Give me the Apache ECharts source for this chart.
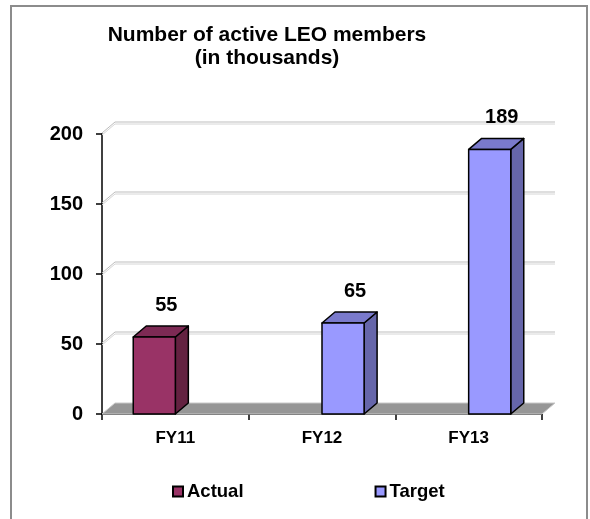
<!DOCTYPE html>
<html><head><meta charset="utf-8">
<script src="https://cdn.jsdelivr.net/npm/echarts@6/dist/echarts.min.js"></script>
<style>html,body{margin:0;padding:0;background:#fff}#c{width:590px;height:519px}</style>
</head><body><div id="c"></div>
<script>
const categories = ['FY11', 'FY12', 'FY13'];
const actualValues = [55, null, null];
const targetValues = [null, 65, 189];
const yTicks = [0, 50, 100, 150, 200];
const seriesNames = ['Actual', 'Target'];
const titleText = 'Number of active LEO members\n(in thousands)';

const DX = 13, DY = -11;
const FONT = "'Liberation Sans', Arial, Helvetica, sans-serif";

function toData(arr) {
  const out = [];
  arr.forEach((v, i) => { if (v != null) out.push([i, v]); });
  return out;
}

function barRenderer(side, colors) {
  return function (params, api) {
    const idx = api.value(0), v = api.value(1);
    const top = api.coord([idx, v]);
    const base = api.coord([idx, 0]);
    const band = api.size([1, 0])[0];
    const w = band * 0.287;
    const x0 = side === 'left' ? top[0] - w : top[0];
    const x1 = x0 + w;
    const yT = top[1], yB = base[1];
    const st = (fill) => ({ fill: fill, stroke: '#000', lineWidth: 1.5, lineJoin: 'round' });
    return {
      type: 'group', children: [
        { type: 'polygon', shape: { points: [[x1, yB], [x1 + DX, yB + DY], [x1 + DX, yT + DY], [x1, yT]] }, style: st(colors.side) },
        { type: 'polygon', shape: { points: [[x0, yT], [x1, yT], [x1 + DX, yT + DY], [x0 + DX, yT + DY]] }, style: st(colors.top) },
        { type: 'rect', shape: { x: x0, y: yT, width: w, height: yB - yT }, style: st(colors.front) },
        { type: 'text', x: (x0 + x1) / 2 + 12, y: yT - 32,
          style: { text: String(v), fill: '#000', font: 'bold 20px ' + FONT, align: 'center', verticalAlign: 'middle', textAlign: 'center', textVerticalAlign: 'middle' } }
      ]
    };
  };
}

function renderWalls(params, api) {
  const c0 = api.coord([0, 0]);
  const band = api.size([1, 0])[0];
  const xL = c0[0] - band / 2, xR = xL + band * categories.length;
  const y0 = c0[1];
  const children = [];
  yTicks.forEach(t => {
    if (t === 0) return;
    const y = api.coord([0, t])[1];
    children.push({ type: 'polyline', shape: { points: [[xL, y - 1], [xL + DX, y + DY - 1], [xR + DX, y + DY - 1]] }, style: { stroke: '#bdbdbd', lineWidth: 1, fill: null } });
    children.push({ type: 'polyline', shape: { points: [[xL, y + 1], [xL + DX, y + DY + 1], [xR + DX, y + DY + 1]] }, style: { stroke: '#d6d6d6', lineWidth: 1, fill: null } });
  });
  children.push({ type: 'polygon', shape: { points: [[xL, y0], [xR, y0], [xR + DX, y0 + DY], [xL + DX, y0 + DY]] }, style: { fill: '#969696', stroke: '#c8c8c8', lineWidth: 1 } });
  return { type: 'group', children: children };
}

const chart = echarts.init(document.getElementById('c'), null, { renderer: 'canvas' });
chart.setOption({
  animation: false,
  backgroundColor: '#fff',
  title: {
    text: titleText, left: 262, top: 19, textAlign: 'center',
    textStyle: { fontFamily: FONT, fontWeight: 'bold', fontSize: 21, lineHeight: 23, color: '#000', align: 'center' }
  },
  graphic: [{ type: 'rect', z: -10, shape: { x: 11, y: 6, width: 576, height: 530 }, style: { fill: null, stroke: '#8c8c8c', lineWidth: 2 } }],
  grid: { left: 102, right: 48, top: 134, bottom: 105, containLabel: false },
  legend: {
    data: seriesNames, left: 172, top: 482, padding: 0, icon: 'rect', itemWidth: 10, itemHeight: 10, itemGap: 131,
    itemStyle: { borderColor: '#000', borderWidth: 2 },
    textStyle: { fontFamily: FONT, fontWeight: 'bold', fontSize: 18.5, color: '#000', padding: [0, 0, 0, -1] }
  },
  xAxis: {
    type: 'category', data: categories, boundaryGap: true,
    axisLine: { show: true, lineStyle: { color: '#000', width: 1.5 } },
    axisTick: { show: true, length: 6, alignWithLabel: false, lineStyle: { color: '#000', width: 1.5 } },
    axisLabel: { fontFamily: FONT, fontWeight: 'bold', fontSize: 17, color: '#000', margin: 16 },
    splitLine: { show: false }
  },
  yAxis: {
    type: 'value', min: 0, max: 200, interval: 50,
    axisLine: { show: true, lineStyle: { color: '#000', width: 1.5 } },
    axisTick: { show: true, length: 6, lineStyle: { color: '#000', width: 1.5 } },
    axisLabel: { fontFamily: FONT, fontWeight: 'bold', fontSize: 20, color: '#000', margin: 19 },
    splitLine: { show: false }
  },
  series: [
    { type: 'custom', silent: true, z: 1, data: [[0, 0]], renderItem: renderWalls, encode: { x: 0, y: 1 } },
    { type: 'custom', name: seriesNames[0], z: 2, data: toData(actualValues), encode: { x: 0, y: 1 },
      itemStyle: { color: '#993366' },
      renderItem: barRenderer('left', { front: '#993366', side: '#642241', top: '#7d2a54' }) },
    { type: 'custom', name: seriesNames[1], z: 2, data: toData(targetValues), encode: { x: 0, y: 1 },
      itemStyle: { color: '#9999FF' },
      renderItem: barRenderer('right', { front: '#9999FF', side: '#6666AA', top: '#7a7acc' }) }
  ]
});
</script></body></html>
